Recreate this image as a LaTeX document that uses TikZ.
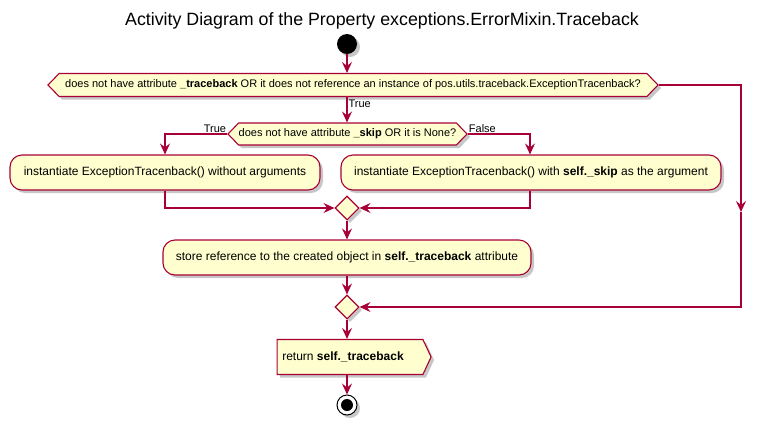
\documentclass[tikz,border=0pt]{standalone}
\usepackage{fontspec}
\setmainfont{Liberation Sans}
\usetikzlibrary{shapes.geometric,shapes.symbols,arrows.meta,shadows,calc}
\definecolor{pborder}{HTML}{A80036}
\definecolor{pfill}{HTML}{FEFECE}
\begin{document}
\begin{tikzpicture}[x=1pt,y=-1pt,
  shadowed/.style={drop shadow={shadow xshift=3pt,shadow yshift=-3pt,fill=black,opacity=0.22}},
  base/.style={draw=pborder,fill=pfill,line width=1.1pt,inner sep=0pt,shadowed},
  act/.style={base,rounded corners=12pt,minimum height=35pt,font=\fontsize{12}{14}\selectfont},
  hexa/.style={base,signal,signal to=east and west,signal pointer angle=92,font=\fontsize{11}{13}\selectfont},
  retbox/.style={base,signal,signal to=east,signal pointer angle=130,minimum height=35pt,font=\fontsize{12}{14}\selectfont},
  merge/.style={base,diamond,minimum width=24pt,minimum height=24pt},
  arr/.style={draw=pborder,line width=1.1pt,-{Stealth[length=11pt,width=10pt,inset=4pt]}},
  lbl/.style={font=\fontsize{11}{13}\selectfont,inner sep=1pt}]
\useasboundingbox (0,0) rectangle (766,424);
\node[font=\fontsize{17.8}{20}\selectfont] (title) at (382,21) {Activity Diagram of the Property exceptions.ErrorMixin.Traceback};
\node[circle,fill=black,minimum size=20pt,inner sep=0pt,shadowed] (start) at (347,44) {};
\node[hexa,minimum width=610pt,minimum height=23pt] (d1) at (353,85) {does not have attribute \textbf{\_traceback} OR it does not reference an instance of pos.utils.traceback.ExceptionTracenback?};
\node[hexa,minimum width=239pt,minimum height=22pt] (d2) at (347.5,134) {does not have attribute \textbf{\_skip} OR it is None?};
\node[act,minimum width=310pt] (b1) at (165,172.5) {instantiate ExceptionTracenback() without arguments};
\node[act,minimum width=380pt] (b2) at (531,172.5) {instantiate ExceptionTracenback() with \textbf{self.\_skip} as the argument};
\node[merge] (m1) at (347,208) {};
\node[act,minimum width=368pt] (b3) at (347,257.5) {store reference to the created object in \textbf{self.\_traceback} attribute};
\node[merge] (m2) at (347,307) {};
\node[retbox,minimum width=154pt] (ret) at (350,357) {\hspace*{-14pt}return \textbf{self.\_traceback}};
\node[circle,draw=black,fill=white,line width=1pt,minimum size=20pt,inner sep=0pt,shadowed] (end) at (347,405) {};
\node[circle,fill=black,minimum size=12pt,inner sep=0pt] (endin) at (347,405) {};
\coordinate (rt) at (741,85);
\coordinate (rmid) at (741,212);
\coordinate (l2) at (165,134);
\coordinate (r2) at (530,134);
\draw[arr] (start) -- (start |- d1.north);
\draw[arr] (start |- d1.south) -- node[lbl,anchor=north west,pos=0.05] {True} (start |- d2.north);
\draw[arr] (d1.east) -| (rmid);
\draw[arr] (rmid) |- (m2.east);
\draw[arr] (d2.west) -- (l2) -- (b1.north);
\node[lbl,anchor=south east] (t2) at (d2.west) {True};
\draw[arr] (d2.east) -- (r2) -- (r2 |- b2.north);
\node[lbl,anchor=south west] (f2) at (d2.east) {False};
\draw[arr] (b1.south) |- (m1.west);
\draw[arr] (r2 |- b2.south) |- (m1.east);
\draw[arr] (m1.south) -- (b3.north);
\draw[arr] (b3.south) -- (m2.north);
\draw[arr] (m2.south) -- (m2.south |- ret.north);
\draw[arr] (m2.south |- ret.south) -- (end.north);
\end{tikzpicture}
\end{document}
